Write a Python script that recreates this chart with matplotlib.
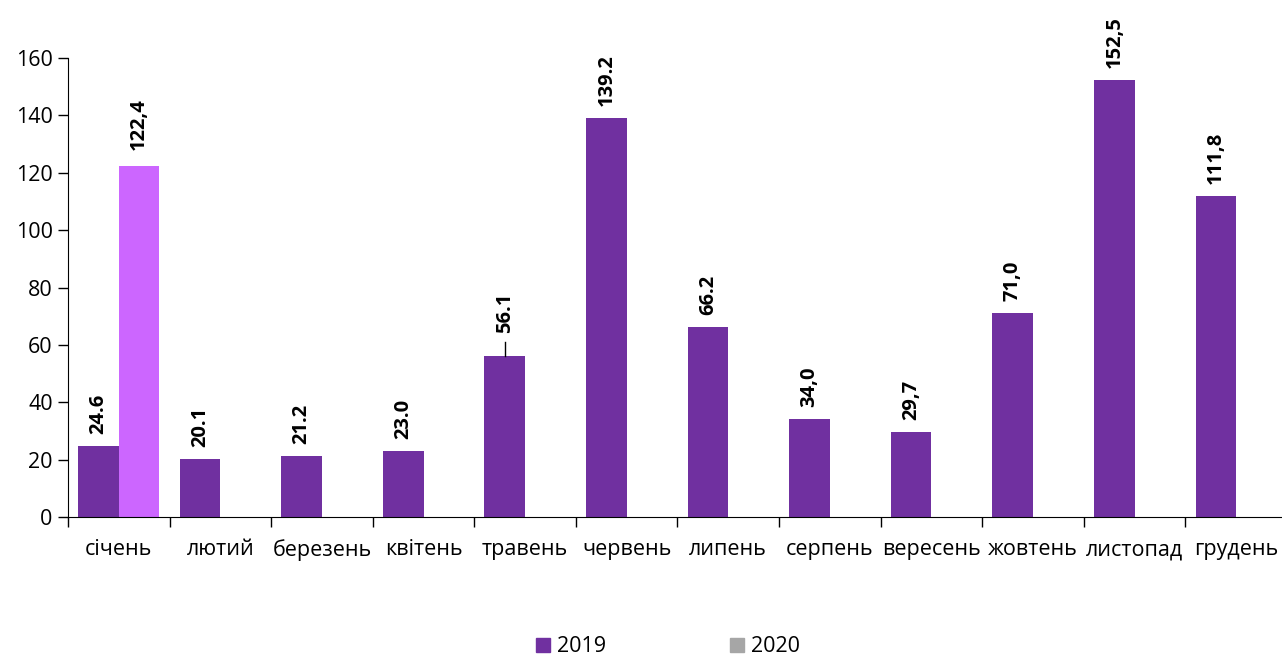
import matplotlib
matplotlib.use("Agg")
import matplotlib.pyplot as plt
from matplotlib.patches import Patch
import numpy as np

plt.rcParams['font.family'] = ['Open Sans', 'DejaVu Sans']

months = ["січень", "лютий", "березень", "квітень", "травень", "червень",
          "липень", "серпень", "вересень", "жовтень", "листопад", "грудень"]
values_2019 = [24.6, 20.1, 21.2, 23.0, 56.1, 139.2, 66.2, 34.0, 29.7, 71.0, 152.5, 111.8]
labels_2019 = ["24.6", "20.1", "21.2", "23.0", "56.1", "139.2", "66.2", "34,0", "29,7", "71,0", "152,5", "111,8"]
values_2020 = [122.4]
labels_2020 = ["122,4"]
yticks = [0, 20, 40, 60, 80, 100, 120, 140, 160]

c2019 = "#7030A0"
c2020_bar = "#CC66FF"
c2020_legend = "#A6A6A6"

W, H = 1282, 656
fig = plt.figure(figsize=(W / 100, H / 100), dpi=100)
x0, x1 = 68, 1287
y0, y1 = 517, 58
ax = fig.add_axes([x0 / W, 1 - y0 / H, (x1 - x0) / W, (y0 - y1) / H])

x = np.arange(len(months))
bw = 0.4
ax.bar(x - bw / 2, values_2019, width=bw, color=c2019, zorder=2)
x20 = x[:len(values_2020)]
ax.bar(x20 + bw / 2, values_2020, width=bw, color=c2020_bar, zorder=2)

ax.set_xlim(-0.5, len(months) - 0.5)
ax.set_ylim(0, 160)
ax.set_yticks(yticks)
ax.set_yticklabels([str(t) for t in yticks], fontsize=15.5)
ax.tick_params(axis='y', direction='out', length=7, width=1, pad=4)

ax.set_xticks(x)
ax.set_xticklabels(months, fontsize=15.5)
ax.tick_params(axis='x', length=0, pad=16)
ax.set_xticks(np.arange(len(months) + 1) - 0.5, minor=True)
ax.tick_params(axis='x', which='minor', direction='out', length=7, width=1)

for s in ['top', 'right']:
    ax.spines[s].set_visible(False)
ax.spines['left'].set_color('black')
ax.spines['bottom'].set_color('black')

def px_to_data(dy_px):
    return dy_px * 160 / (y0 - y1)

for i, (v, lab) in enumerate(zip(values_2019, labels_2019)):
    off = 12
    if i == 4:
        off = 23
        ax.plot([i - bw / 2, i - bw / 2], [v, v + px_to_data(14)], color='black', lw=1, zorder=3)
    ax.annotate(lab, (i - bw / 2, v), xytext=(0, off), textcoords='offset pixels',
                rotation=90, ha='center', va='bottom', fontsize=14.5, fontweight='bold')
for i, (v, lab) in enumerate(zip(values_2020, labels_2020)):
    ax.annotate(lab, (i + bw / 2, v), xytext=(0, 16), textcoords='offset pixels',
                rotation=90, ha='center', va='bottom', fontsize=14.5, fontweight='bold')

handles = [Patch(color=c2019, label="2019"), Patch(color=c2020_legend, label="2020")]
fig.legend(handles=handles, loc='center', bbox_to_anchor=(668 / W, 1 - 647 / H),
           ncol=2, frameon=False, fontsize=15.5, handlelength=0.65, handleheight=0.65,
           columnspacing=5.8, handletextpad=0.3)

fig.savefig("out.png", dpi=100)
